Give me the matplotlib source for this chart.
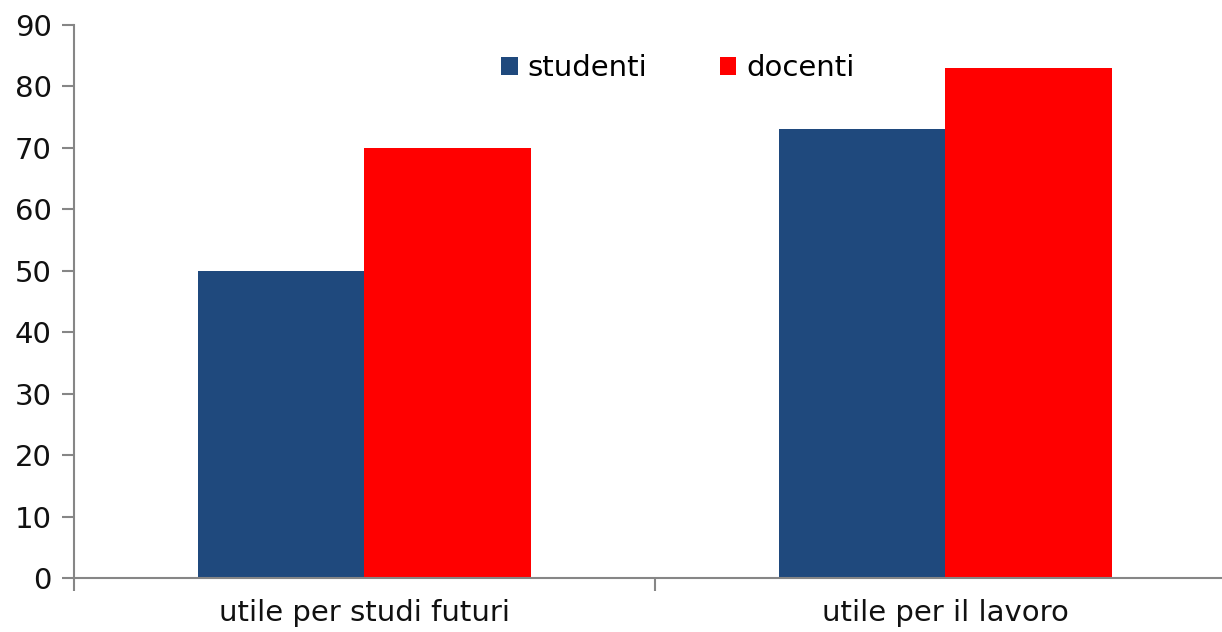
import matplotlib
matplotlib.use("Agg")
import matplotlib.pyplot as plt
import numpy as np

categories = ["utile per studi futuri", "utile per il lavoro"]
series_names = ["studenti", "docenti"]
studenti = [50, 73]
docenti = [70, 83]
yticks = [0, 10, 20, 30, 40, 50, 60, 70, 80, 90]

plt.rcParams['font.family'] = ['DejaVu Sans']

fig = plt.figure(figsize=(12.22, 6.32), dpi=100)
ax = fig.add_axes([74/1222, 54/632, 1162/1222, 553/632])

x = np.arange(len(categories))
w = 0.286
c_blue = "#1F497D"
c_red = "#FF0000"
ax.bar(x - w/2, studenti, w, color=c_blue, label=series_names[0])
ax.bar(x + w/2, docenti, w, color=c_red, label=series_names[1])

ax.set_xlim(-0.5, 1.5)
ax.set_ylim(0, 90)
ax.set_yticks(yticks)
ax.set_xticks(x)
ax.set_xticklabels(categories)
ax.set_xticks([-0.5, 0.5, 1.5], minor=True)

grey = "#868686"
for s in ["top", "right"]:
    ax.spines[s].set_visible(False)
for s in ["left", "bottom"]:
    ax.spines[s].set_color(grey)
    ax.spines[s].set_linewidth(1.5)

ax.tick_params(axis="y", direction="out", length=9, width=1.5, color=grey,
               labelsize=21, pad=7, labelcolor="#111111")
ax.tick_params(axis="x", which="major", length=0, labelsize=21, pad=15,
               labelcolor="#111111")
ax.tick_params(axis="x", which="minor", direction="out", length=9, width=1.5, color=grey)

leg = ax.legend(loc="center", bbox_to_anchor=(0.52, 0.922), ncol=2,
                frameon=False, fontsize=21, handlelength=0.55, handleheight=0.55,
                handletextpad=0.35, columnspacing=2.5)

fig.savefig("out.png", dpi=100)
